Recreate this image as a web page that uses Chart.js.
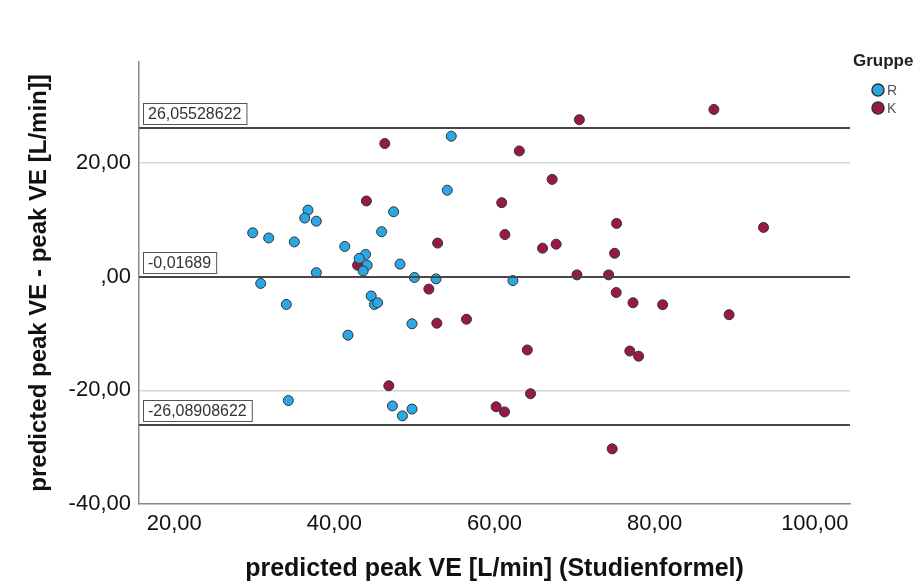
<!DOCTYPE html>
<html>
<head>
<meta charset="utf-8">
<title>Bland-Altman peak VE</title>
<script src="https://cdn.jsdelivr.net/npm/chart.js@4.4.0/dist/chart.umd.min.js"></script>
<style>
  html, body { margin: 0; padding: 0; background: #fff; }
</style>
</head>
<body>
<canvas id="myChart" width="923" height="586"></canvas>
<script>
// Gruppe R
const rX = [29.8, 31.8, 35.0, 36.7, 36.3, 37.75, 41.3, 43.9, 43.1, 44.1, 43.6, 37.75, 30.8, 34.0, 44.6, 45.0,
  45.4, 45.9, 54.6, 54.1, 47.4, 48.2, 50.0, 52.7, 62.3, 49.7, 41.7, 34.25, 47.25, 48.5, 49.7];
const rY = [7.7, 6.8, 6.1, 11.7, 10.3, 9.75, 5.3, 3.9, 3.2, 2.0, 1.0, 0.7, -1.2, -4.9, -3.4, -4.9,
  -4.6, 7.9, 24.7, 15.2, 11.4, 2.2, -0.15, -0.4, -0.7, -8.3, -10.3, -21.8, -22.75, -24.5, -23.3];
// Gruppe K
const kX = [44.0, 42.9, 46.3, 63.1, 70.6, 67.2, 60.9, 75.25, 61.3, 52.9, 66.0, 67.7, 75.0, 70.3, 74.25, 75.2,
  51.8, 87.4, 93.6, 77.3, 81.0, 89.3, 76.9, 78.0, 74.7, 52.8, 56.5, 64.1, 46.8, 64.5, 60.2, 61.25];
const kY = [13.3, 2.0, 23.4, 22.1, 27.6, 17.1, 13.0, 9.35, 7.4, 5.9, 5.0, 5.7, 4.1, 0.3, 0.3, -2.8,
  -2.2, 29.4, 8.65, -4.6, -4.95, -6.7, -13.1, -14.0, -30.3, -8.2, -7.5, -12.9, -19.2, -20.6, -22.9, -23.8];

// mean difference and limits of agreement
const limits = [26.05528622, -0.01689, -26.08908622];

const xTicks = [20, 40, 60, 80, 100];
const yTicks = [-40, -20, 0, 20];
const groups = ["R", "K"];

const BLUE = "#2aa8e6";
const RED = "#99174b";
const FONT = '"Liberation Sans", Arial, sans-serif';

function fmt(v) {
  let s = v.toFixed(2).replace(".", ",");
  if (s.startsWith("0,")) s = s.slice(1);
  return s;
}

function limitText(v) {
  let s = v.toFixed(8).replace(/0+$/, "");
  return s.replace(".", ",");
}

const toPoints = (xs, ys) => xs.map((x, i) => ({ x: x, y: ys[i] }));

const refLines = {
  id: "refLines",
  afterDatasetsDraw(chart) {
    const { ctx, chartArea, scales } = chart;
    ctx.save();
    limits.forEach((v) => {
      const py = Math.round(scales.y.getPixelForValue(v));
      ctx.strokeStyle = "#474747";
      ctx.lineWidth = 2;
      ctx.beginPath();
      ctx.moveTo(chartArea.left, py);
      ctx.lineTo(chartArea.right, py);
      ctx.stroke();

      const txt = limitText(v);
      ctx.font = "16px " + FONT;
      const w = ctx.measureText(txt).width + 10;
      const h = 21;
      const bx = chartArea.left + 4;
      const by = py - 4 - h;
      ctx.fillStyle = "#fff";
      ctx.fillRect(bx, by, w, h);
      ctx.strokeStyle = "#555";
      ctx.lineWidth = 1;
      ctx.strokeRect(bx + 0.5, by + 0.5, w, h);
      ctx.fillStyle = "#333";
      ctx.textBaseline = "middle";
      ctx.textAlign = "left";
      ctx.fillText(txt, bx + 5, by + h / 2 + 1);
    });
    ctx.restore();
  },
  afterDraw(chart) {
    // legend on the right
    const ctx = chart.ctx;
    ctx.save();
    ctx.fillStyle = "#222";
    ctx.font = "bold 17px " + FONT;
    ctx.textBaseline = "alphabetic";
    ctx.textAlign = "left";
    ctx.fillText("Gruppe", 853, 66);
    const colors = [BLUE, RED];
    groups.forEach((g, i) => {
      const cy = 90 + i * 18;
      ctx.beginPath();
      ctx.arc(878, cy, 6, 0, Math.PI * 2);
      ctx.fillStyle = colors[i];
      ctx.fill();
      ctx.lineWidth = 1.5;
      ctx.strokeStyle = "#333";
      ctx.stroke();
      ctx.fillStyle = "#555";
      ctx.font = "14px " + FONT;
      ctx.textBaseline = "middle";
      ctx.fillText(g, 887, cy + 1);
    });
    ctx.restore();
  },
};

const config = {
  type: "scatter",
  data: {
    datasets: [
      {
        label: groups[0],
        data: toPoints(rX, rY),
        backgroundColor: BLUE,
        borderColor: "#333",
        borderWidth: 1,
        pointRadius: 5,
      },
      {
        label: groups[1],
        data: toPoints(kX, kY),
        backgroundColor: RED,
        borderColor: "#333",
        borderWidth: 1,
        pointRadius: 5,
      },
    ],
  },
  options: {
    responsive: false,
    animation: false,
    layout: { padding: { top: 62, right: 73, left: 0, bottom: 0 } },
    plugins: { legend: { display: false }, tooltip: { enabled: false } },
    scales: {
      x: {
        type: "linear",
        min: 15.6,
        max: 104.4,
        afterBuildTicks: (scale) => { scale.ticks = xTicks.map((v) => ({ value: v })); },
        afterFit: (scale) => { scale.height = 82; },
        grid: { display: false, drawTicks: false },
        border: { display: true, color: "#8a8a8a", width: 1.5 },
        ticks: {
          autoSkip: false,
          maxRotation: 0,
          padding: 7,
          color: "#111",
          font: { family: FONT, size: 22 },
          callback: (v) => fmt(v),
        },
        title: {
          display: true,
          text: "predicted peak VE [L/min] (Studienformel)",
          color: "#111",
          font: { family: FONT, size: 25, weight: "bold" },
          padding: { top: 0, bottom: 2 },
        },
      },
      y: {
        type: "linear",
        min: -40,
        max: 37.75,
        afterBuildTicks: (scale) => { scale.ticks = yTicks.map((v) => ({ value: v })); },
        afterFit: (scale) => { scale.width = 139; },
        grid: {
          drawTicks: false,
          lineWidth: 1.5,
          color: (c) => (c.tick && Math.abs(c.tick.value) === 20 ? "#d6d6d6" : "rgba(0,0,0,0)"),
        },
        border: { display: true, color: "#8a8a8a", width: 1.5 },
        ticks: {
          autoSkip: false,
          padding: 8,
          color: "#111",
          font: { family: FONT, size: 22 },
          callback: (v) => fmt(v),
        },
        title: {
          display: true,
          text: "predicted peak VE - peak VE [L/min]]",
          color: "#111",
          font: { family: FONT, size: 24, weight: "bold" },
          padding: { top: 25, bottom: 0 },
        },
      },
    },
  },
  plugins: [refLines],
};

const myChart = new Chart(document.getElementById("myChart"), config);
</script>
</body>
</html>
